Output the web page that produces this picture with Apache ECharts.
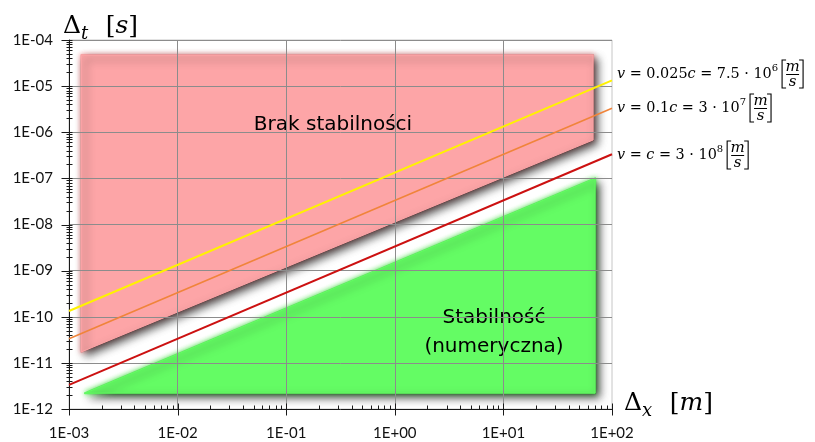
<!DOCTYPE html>
<html>
<head>
<meta charset="utf-8">
<script src="https://cdn.jsdelivr.net/npm/echarts@6/dist/echarts.min.js"></script>
<style>
  html, body { margin: 0; padding: 0; background: #fff; }
  #chart { width: 815px; height: 442px; }
</style>
</head>
<body>
<div id="chart"></div>
<script>
// Axis tick labels (one per decade)
const xTickLabels = ['1E-03', '1E-02', '1E-01', '1E+00', '1E+01', '1E+02'];
const yTickLabels = ['1E-12', '1E-11', '1E-10', '1E-09', '1E-08', '1E-07', '1E-06', '1E-05', '1E-04'];

// Courant limit lines: time step Δt [s] at both ends of the Δx [m] range
const dxEnds  = [1e-3, 1e2];
const dtSlow  = [1.33e-10, 1.33e-5];  // v = 0.025c
const dtTenth = [3.33e-11, 3.33e-6];  // v = 0.1c
const dtLight = [3.33e-12, 3.33e-7];  // v = c

// Shaded regions (polygon vertices in Δx / Δt)
const unstableDx = [1.3e-3, 67, 67, 1.3e-3];
const unstableDt = [4.7e-5, 4.7e-5, 6.8e-7, 1.73e-11];
const stableDx   = [1.4e-3, 70, 70];
const stableDt   = [2.2e-12, 1.0e-7, 2.2e-12];

const X_MIN = 1e-3, X_MAX = 1e2, Y_MIN = 1e-12, Y_MAX = 1e-4;

const regions = [
  { dx: unstableDx, dt: unstableDt, color: '#FDA5A7' },
  { dx: stableDx,   dt: stableDt,   color: '#64FC64' }
];

// Major and minor (2..9) tick positions on both log axes
const ticks = [];
for (let e = -3; e <= 2; e++) {
  ticks.push({ axis: 'x', v: Math.pow(10, e), major: true });
  if (e < 2) for (let k = 2; k <= 9; k++) ticks.push({ axis: 'x', v: k * Math.pow(10, e), major: false });
}
for (let e = -12; e <= -4; e++) {
  ticks.push({ axis: 'y', v: Math.pow(10, e), major: true });
  if (e < -4) for (let k = 2; k <= 9; k++) ticks.push({ axis: 'y', v: k * Math.pow(10, e), major: false });
}

// ---- math-style text helpers ----
const SERIF = '"DejaVu Serif", "Liberation Serif", serif';
const mctx = document.createElement('canvas').getContext('2d');
function measure(text, font) { mctx.font = font; return mctx.measureText(text).width; }

function textEl(x, y, text, font, align) {
  return {
    type: 'text', x: x, y: y, silent: true,
    style: { text: text, font: font, fill: '#000',
      align: align || 'left', verticalAlign: 'middle',
      textAlign: align || 'left', textVerticalAlign: 'middle' }
  };
}

function mathRun(x, yMid, segs, size) {
  const els = [];
  for (const [t, kind] of segs) {
    let fs = size, st = 'normal', dy = 0;
    if (kind === 'i') st = 'italic';
    if (kind === 'sup') { fs = Math.round(size * 0.66); dy = -size * 0.36; }
    if (kind === 'sub') { fs = Math.round(size * 0.72); st = 'italic'; dy = size * 0.32; }
    const font = st + ' ' + fs + 'px ' + SERIF;
    els.push(textEl(x, yMid + dy, t, font));
    x += measure(t, font);
  }
  return { els: els, x: x };
}

function unitFraction(x, yMid, top, bottom) {
  const els = [];
  const w = 13, h = 14;
  const line = { stroke: '#000', lineWidth: 1.1, fill: null };
  els.push({ type: 'polyline', silent: true, shape: { points: [[x + 4, yMid - h], [x, yMid - h], [x, yMid + h], [x + 4, yMid + h]] }, style: line });
  const cx = x + 4 + w / 2;
  const f = 'italic 15px ' + SERIF;
  els.push(textEl(cx, yMid - 7, top, f, 'center'));
  els.push({ type: 'line', silent: true, shape: { x1: x + 4, y1: yMid + 0.5, x2: x + 4 + w, y2: yMid + 0.5 }, style: { stroke: '#000', lineWidth: 1 } });
  els.push(textEl(cx, yMid + 8, bottom, f, 'center'));
  const rx = x + w + 8;
  els.push({ type: 'polyline', silent: true, shape: { points: [[rx - 4, yMid - h], [rx, yMid - h], [rx, yMid + h], [rx - 4, yMid + h]] }, style: line });
  return els;
}

function speedLabel(x, yMid, segs) {
  const run = mathRun(x, yMid, segs, 14.4);
  return run.els.concat(unitFraction(run.x + 4, yMid, 'm', 's'));
}

const graphics = [];
// axis titles
graphics.push(...mathRun(63, 26, [['Δ', 'n'], ['t', 'sub'], ['\u2002\u2009', 'n'], ['[', 'n'], ['s', 'i'], [']', 'n']], 25).els);
graphics.push(...mathRun(624, 403, [['Δ', 'n'], ['x', 'sub'], ['\u2002\u2009', 'n'], ['[', 'n'], ['m', 'i'], [']', 'n']], 25).els);
// line captions
graphics.push(...speedLabel(617, 74, [['v', 'i'], [' = 0.025', 'n'], ['c', 'i'], [' = 7.5 · 10', 'n'], ['6', 'sup']]));
graphics.push(...speedLabel(617, 108, [['v', 'i'], [' = 0.1', 'n'], ['c', 'i'], [' = 3 · 10', 'n'], ['7', 'sup']]));
graphics.push(...speedLabel(617, 155, [['v', 'i'], [' = ', 'n'], ['c', 'i'], [' = 3 · 10', 'n'], ['8', 'sup']]));
// region captions
const SANS = '"DejaVu Sans", "Noto Sans", sans-serif';
graphics.push(textEl(333, 125, 'Brak stabilności', '20px ' + SANS, 'center'));
graphics.push(textEl(494, 318, 'Stabilność', '20px ' + SANS, 'center'));
graphics.push(textEl(494, 347, '(numeryczna)', '20px ' + SANS, 'center'));

function tickLabel(labels, offset) {
  return function (value) {
    const e = Math.round(Math.log10(value));
    return labels[e + offset] || '';
  };
}

const LABEL_FONT = 'Lato, "Noto Sans", sans-serif';

const chart = echarts.init(document.getElementById('chart'), null, { renderer: 'canvas' });
chart.setOption({
  animation: false,
  backgroundColor: '#fff',
  grid: { left: 69, right: 203, top: 40, bottom: 33, show: true, borderColor: '#c6c6c6', borderWidth: 1, backgroundColor: 'transparent' },
  xAxis: {
    type: 'log', logBase: 10, min: X_MIN, max: X_MAX, interval: 1,
    axisLine: { show: true, onZero: false, lineStyle: { color: '#1a1a1a', width: 1 } },
    axisTick: { show: false },
    minorTick: { show: false },
    axisLabel: { formatter: tickLabel(xTickLabels, 3), fontFamily: LABEL_FONT, fontSize: 15, color: '#111', margin: 17, showMinLabel: true, showMaxLabel: true },
    splitLine: { show: true, showMinLine: false, showMaxLine: false, lineStyle: { color: '#8c8c8c', width: 1 } }
  },
  yAxis: {
    type: 'log', logBase: 10, min: Y_MIN, max: Y_MAX, interval: 1,
    axisLine: { show: true, onZero: false, lineStyle: { color: '#1a1a1a', width: 1 } },
    axisTick: { show: false },
    minorTick: { show: false },
    axisLabel: { formatter: tickLabel(yTickLabels, 12), fontFamily: LABEL_FONT, fontSize: 15, color: '#111', margin: 16, showMinLabel: true, showMaxLabel: true },
    splitLine: { show: true, showMinLine: false, showMaxLine: false, lineStyle: { color: '#8c8c8c', width: 1 } }
  },
  graphic: { elements: graphics },
  series: [
    {
      name: 'regions', type: 'custom', z: -1, silent: true, clip: false,
      data: regions.map(r => [r.dx[0], r.dt[0]]),
      renderItem: function (params, api) {
        const r = regions[params.dataIndex];
        const pts = r.dx.map((x, i) => api.coord([x, r.dt[i]]));
        return {
          type: 'group',
          children: [
            { // soft halo around the edges
              type: 'polygon', shape: { points: pts },
              style: { fill: r.color, stroke: r.color, lineWidth: 2, lineJoin: 'round',
                shadowBlur: 5, shadowColor: r.color, opacity: 0.9 }
            },
            { // body with drop shadow
              type: 'polygon', shape: { points: pts },
              style: { fill: r.color, stroke: r.color, lineWidth: 1, lineJoin: 'round',
                shadowBlur: 9, shadowColor: 'rgba(20,20,20,0.75)', shadowOffsetX: 4, shadowOffsetY: 4 }
            }
          ]
        };
      }
    },
    {
      name: 'v = 0.025c', type: 'line', z: 3, showSymbol: false, silent: true,
      data: dxEnds.map((x, i) => [x, dtSlow[i]]),
      lineStyle: { color: '#FFF200', width: 2 }
    },
    {
      name: 'v = 0.1c', type: 'line', z: 3, showSymbol: false, silent: true,
      data: dxEnds.map((x, i) => [x, dtTenth[i]]),
      lineStyle: { color: '#F0843A', width: 1.6 }
    },
    {
      name: 'v = c', type: 'line', z: 3, showSymbol: false, silent: true,
      data: dxEnds.map((x, i) => [x, dtLight[i]]),
      lineStyle: { color: '#CC1111', width: 2 }
    },
    {
      name: 'ticks', type: 'custom', z: 6, silent: true, clip: false,
      data: ticks.map(t => t.axis === 'x' ? [t.v, Y_MIN] : [X_MIN, t.v]),
      renderItem: function (params, api) {
        const t = ticks[params.dataIndex];
        const p = api.coord([api.value(0), api.value(1)]);
        const x = Math.round(p[0]) + 0.5, y = Math.round(p[1]) + 0.5;
        let s;
        if (t.axis === 'x') s = t.major ? { x1: x, y1: y - 6, x2: x, y2: y + 6 } : { x1: x, y1: y - 4, x2: x, y2: y };
        else s = t.major ? { x1: x - 8, y1: y, x2: x + 3, y2: y } : { x1: x - 3, y1: y, x2: x + 3, y2: y };
        return { type: 'line', shape: s, style: { stroke: '#1a1a1a', lineWidth: 1 } };
      }
    }
  ]
});
</script>
</body>
</html>
